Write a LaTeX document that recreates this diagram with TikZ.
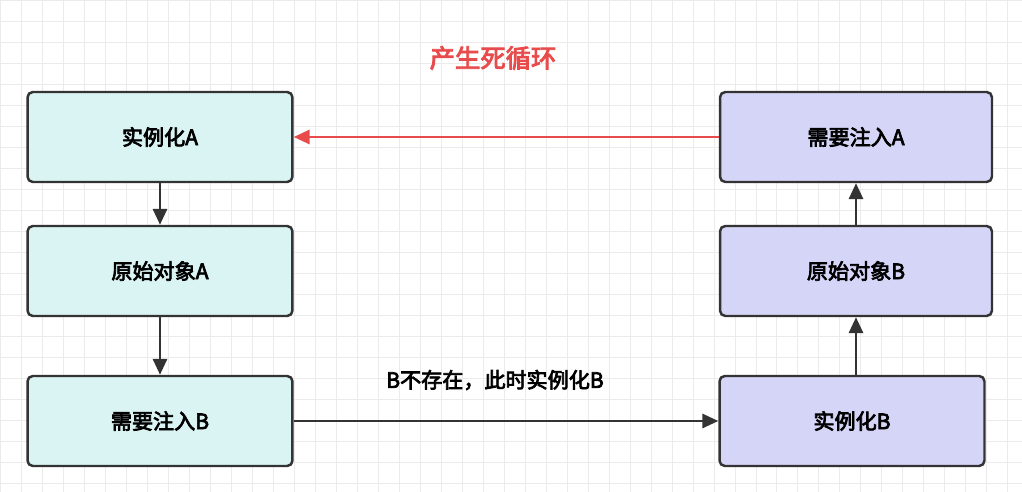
\documentclass[tikz,border=0pt]{standalone}
\usepackage{fontspec}
\setmainfont{Noto Sans CJK SC}[AutoFakeBold=3.5]
\usetikzlibrary{arrows.meta,positioning}
\definecolor{boxA}{HTML}{DAF4F3}
\definecolor{boxB}{HTML}{D5D5F7}
\definecolor{loopred}{HTML}{E84B4B}
\definecolor{edge}{HTML}{333333}
\tikzset{
  step box/.style={draw=edge,line width=1.4pt,rounded corners=3pt,minimum width=5.3cm,minimum height=1.8cm,font=\bfseries\large},
  flow/.style={draw=edge,line width=1.4pt,-{Triangle[length=9pt,width=8pt]}}
}
\begin{document}
\begin{tikzpicture}[x=0.02cm,y=-0.02cm]
  \useasboundingbox (0,0) rectangle (1022,492);
  \fill[white] (0,0) rectangle (1022,492);
  \draw[black!8,step=0.42cm] (0,0) grid (1022,492);
  % left column
  \node[step box,fill=boxA] (newA) at (160,137) {实例化A};
  \node[step box,fill=boxA] (rawA) at (160,271) {原始对象A};
  \node[step box,fill=boxA] (injB) at (160,421) {需要注入B};
  % right column
  \node[step box,fill=boxB,minimum width=5.44cm] (injA) at (856,137) {需要注入A};
  \node[step box,fill=boxB,minimum width=5.44cm] (rawB) at (856,271) {原始对象B};
  \node[step box,fill=boxB] (newB) at (852,421) {实例化B};
  \draw[flow] (newA) -- (rawA);
  \draw[flow] (rawA) -- (injB);
  \draw[flow] (injB) -- (newB);
  \node[font=\bfseries\large] (why) at (495,380) {B不存在，此时实例化B};
  \draw[flow] (newB.north -| rawB) -- (rawB);
  \draw[flow] (rawB) -- (injA);
  \draw[flow,draw=loopred,-{Triangle[length=9pt,width=8pt,fill=loopred]}] (injA) -- (newA);
  \node[text=loopred,font=\bfseries\Large] (loop) at (493,58) {产生死循环};
\end{tikzpicture}
\end{document}
